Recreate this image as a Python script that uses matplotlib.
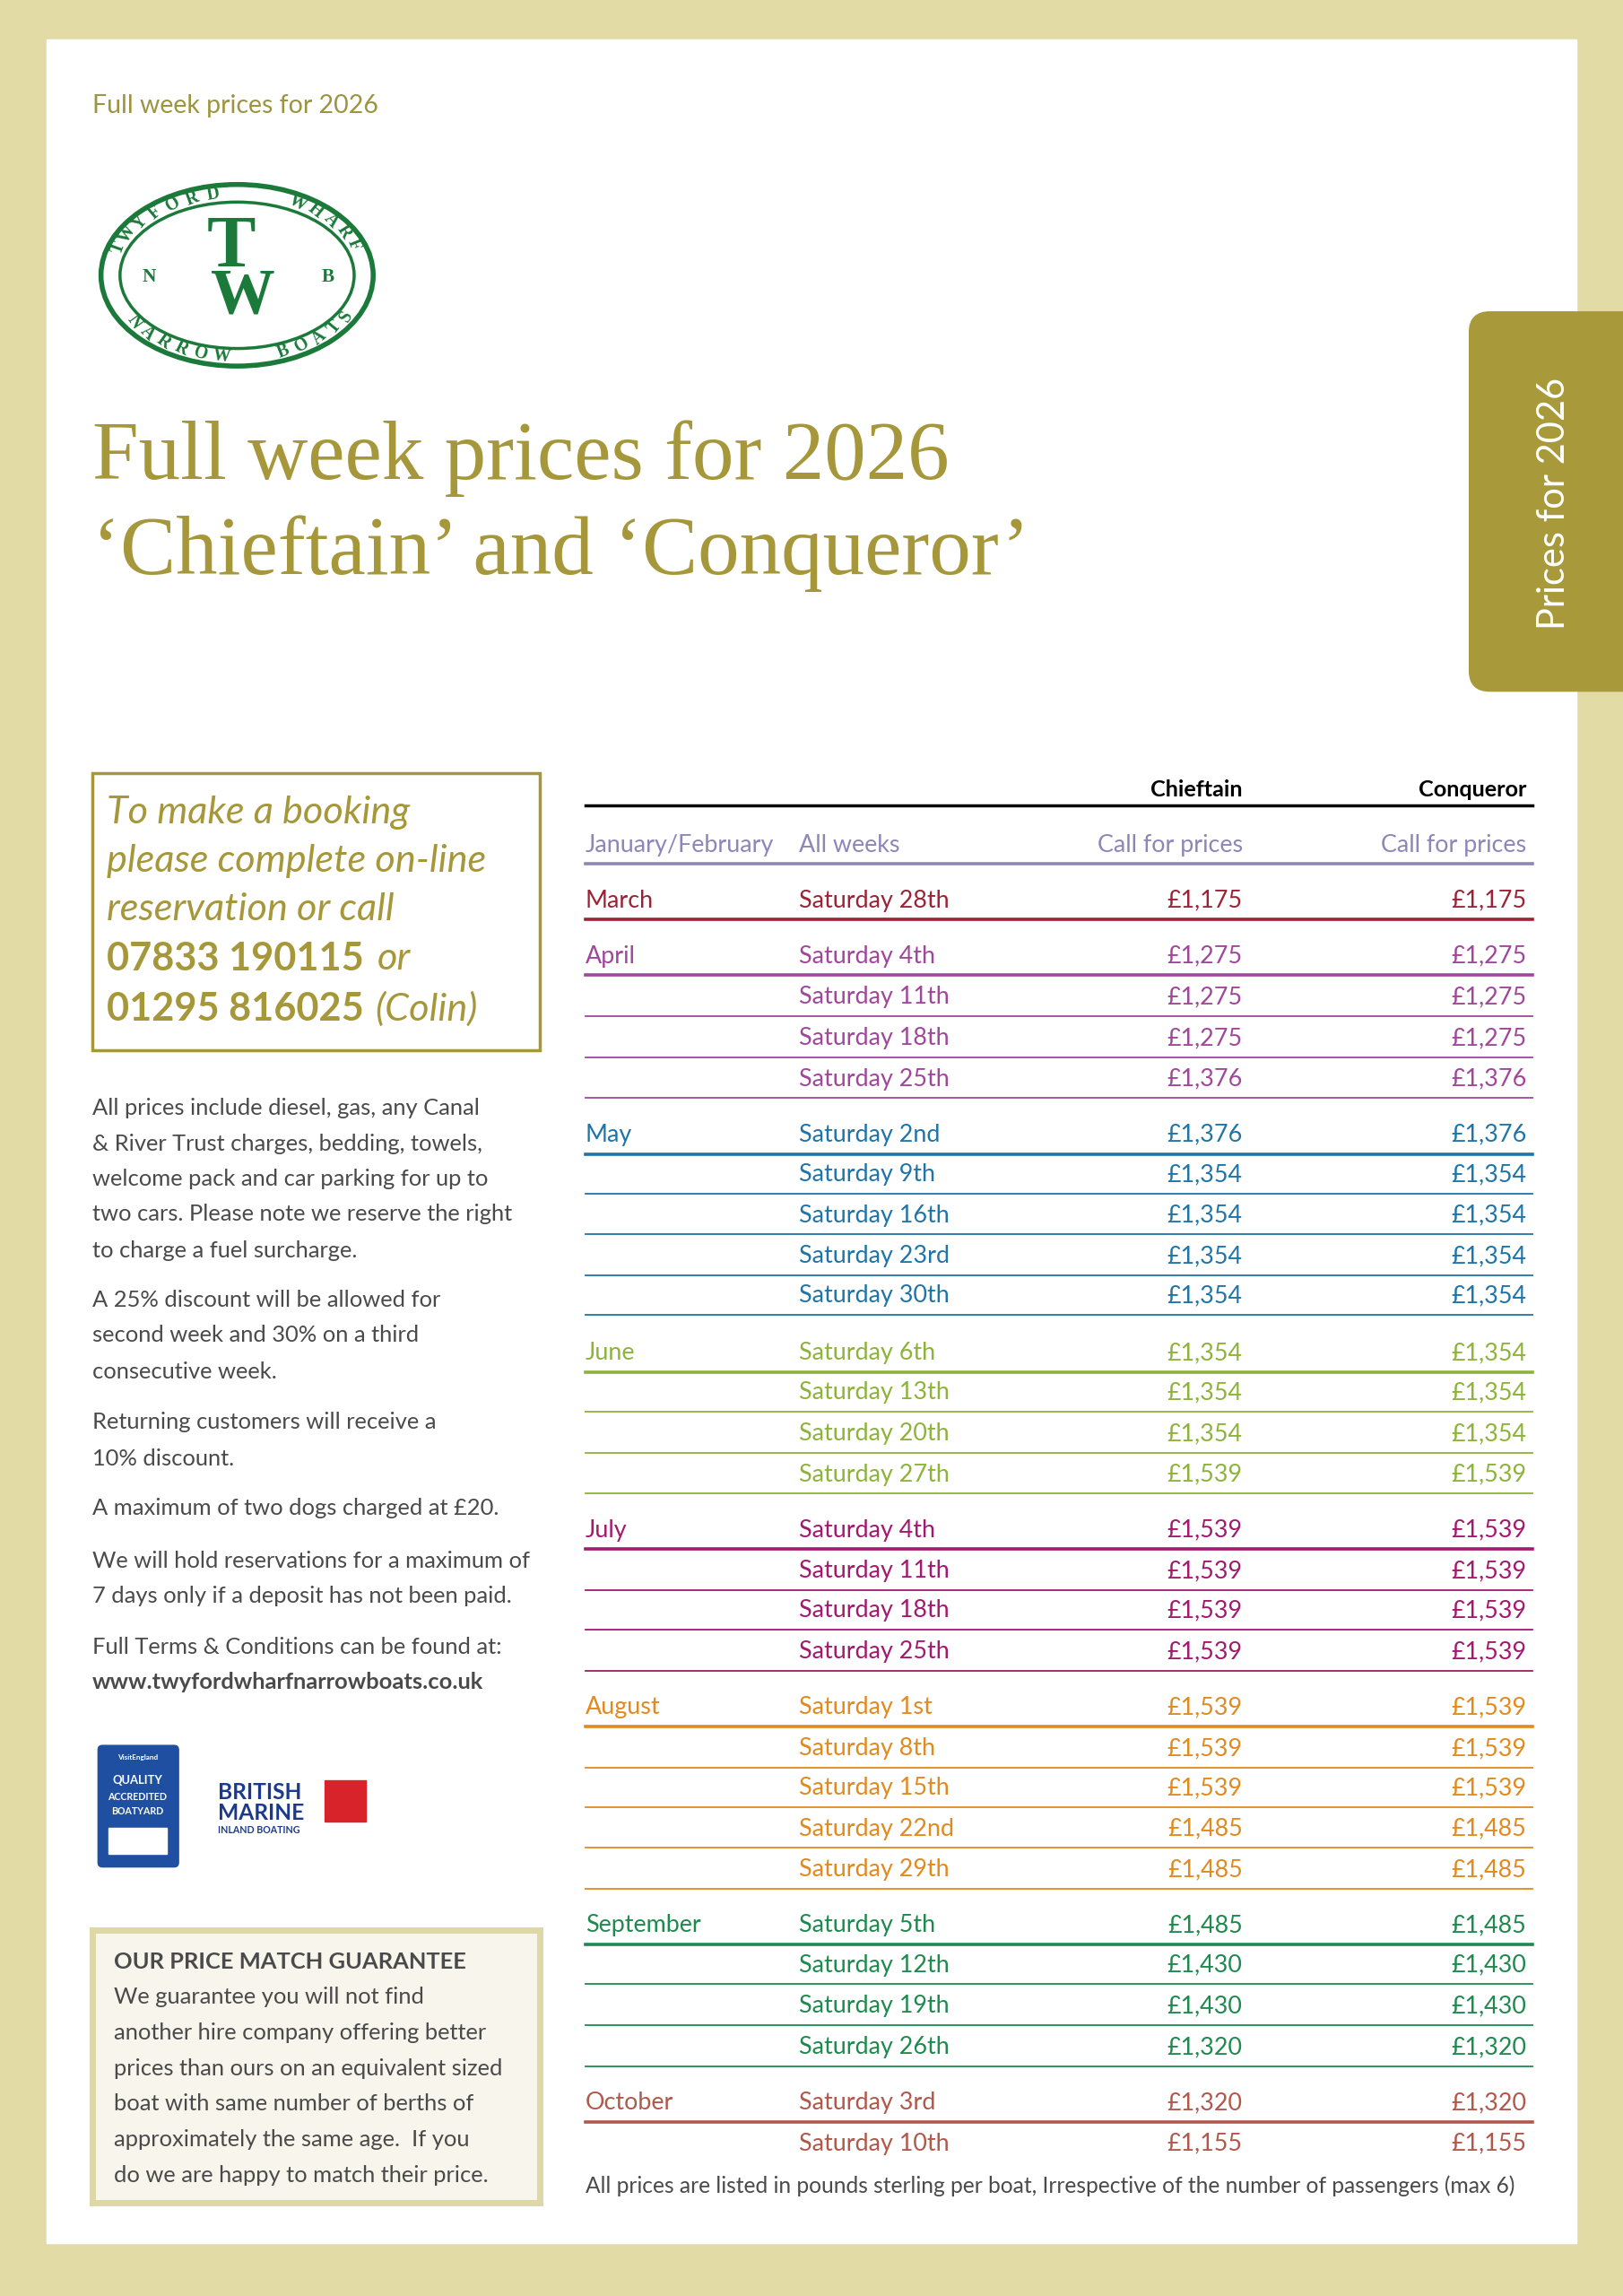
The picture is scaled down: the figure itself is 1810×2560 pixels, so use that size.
import matplotlib
matplotlib.use("Agg")
import matplotlib.pyplot as plt
from matplotlib.patches import Rectangle, FancyBboxPatch, Ellipse
import numpy as np

months = ["January/February", "March", "April", "", "", "", "May", "", "", "", "",
          "June", "", "", "", "July", "", "", "", "August", "", "", "", "",
          "September", "", "", "", "October", ""]
days = ["All weeks", "Saturday 28th", "Saturday 4th", "Saturday 11th", "Saturday 18th", "Saturday 25th",
        "Saturday 2nd", "Saturday 9th", "Saturday 16th", "Saturday 23rd", "Saturday 30th",
        "Saturday 6th", "Saturday 13th", "Saturday 20th", "Saturday 27th",
        "Saturday 4th", "Saturday 11th", "Saturday 18th", "Saturday 25th",
        "Saturday 1st", "Saturday 8th", "Saturday 15th", "Saturday 22nd", "Saturday 29th",
        "Saturday 5th", "Saturday 12th", "Saturday 19th", "Saturday 26th",
        "Saturday 3rd", "Saturday 10th"]
chieftain = ["Call for prices", "£1,175", "£1,275", "£1,275", "£1,275", "£1,376",
             "£1,376", "£1,354", "£1,354", "£1,354", "£1,354",
             "£1,354", "£1,354", "£1,354", "£1,539",
             "£1,539", "£1,539", "£1,539", "£1,539",
             "£1,539", "£1,539", "£1,539", "£1,485", "£1,485",
             "£1,485", "£1,430", "£1,430", "£1,320",
             "£1,320", "£1,155"]
conqueror = list(chieftain)
group_colors = {"January/February": "#8E86B8", "March": "#9B2335", "April": "#A0479A",
                "May": "#1F74A8", "June": "#8DB33A", "July": "#A3196E",
                "August": "#E08A20", "September": "#1E8A4E", "October": "#B0584A"}
row_y = [577, 615, 653, 681, 709, 737, 775, 802, 830, 858, 885, 924, 951, 979, 1007,
         1045, 1073, 1100, 1128, 1166, 1194, 1221, 1249, 1277, 1315, 1342, 1370, 1398, 1436, 1464]

K = 1.175
OLIVE = "#A5973A"
GRAY = "#4A4A4A"
SANS = ["Lato", "DejaVu Sans"]
SERIF = ["Liberation Serif", "DejaVu Serif"]

fig = plt.figure(figsize=(18.1, 25.6), dpi=100)
ax = fig.add_axes([0, 0, 1, 1])
ax.set_xlim(0, 1109); ax.set_ylim(1568, 0); ax.axis("off")
ax.add_patch(Rectangle((0, 0), 1109, 1568, color="#E2DBA6", zorder=0))
ax.add_patch(Rectangle((32, 27), 1045, 1505, color="white", zorder=1))
ax.add_patch(FancyBboxPatch((1004, 213), 140, 259, boxstyle="round,pad=0,rounding_size=14",
                            color="#A89A3A", zorder=2))
ax.text(1062, 344, "Prices for 2026", rotation=90, color="white", fontsize=25.5 * K,
        family=SANS, ha="center", va="center", zorder=3)

ax.text(63, 72, "Full week prices for 2026", color="#9C9440", fontsize=17.5 * K, family=SANS,
        va="center", zorder=3)

# logo
G = "#1B7A3A"
ax.add_patch(Ellipse((162, 188), 186, 124, fill=False, ec=G, lw=4, zorder=3))
ax.add_patch(Ellipse((162, 188), 160, 100, fill=False, ec=G, lw=2.5, zorder=3))
ax.text(158, 170, "T", color=G, fontsize=50 * K, family=SERIF, weight="bold",
        ha="center", va="center", zorder=4)
ax.text(166, 203, "W", color=G, fontsize=44 * K, family=SERIF, weight="bold",
        ha="center", va="center", zorder=4)
ax.text(102, 189, "N", color=G, fontsize=13 * K, family=SERIF, weight="bold", ha="center", va="center", zorder=4)
ax.text(224, 189, "B", color=G, fontsize=13 * K, family=SERIF, weight="bold", ha="center", va="center", zorder=4)
def arc_text(s, a0, a1, top=True):
    angs = np.linspace(a0, a1, len(s))
    for ch, a in zip(s, angs):
        r = np.radians(a)
        x = 162 + 86 * np.cos(r); y = 188 - 56 * np.sin(r)
        rot = a - 90 if top else a + 90
        ax.text(x, y, ch, color=G, fontsize=12 * K, family=SERIF, weight="bold",
                ha="center", va="center", rotation=rot, zorder=4)
arc_text("TWYFORD   WHARF", 160, 22, True)
arc_text("NARROW  BOATS", 215, 330, False)

ax.text(63, 313, "Full week prices for 2026", color=OLIVE, fontsize=57 * K, family=SERIF,
        va="center", zorder=3)
ax.text(63, 378, "‘Chieftain’ and ‘Conqueror’", color=OLIVE, fontsize=57 * K, family=SERIF,
        va="center", zorder=3)

# booking box
BF = 26.5 * K
ax.add_patch(Rectangle((63, 528), 306, 189, fill=False, ec=OLIVE, lw=2.5, zorder=3))
for y, s in [(555, "To make a booking"), (588, "please complete on-line"), (621, "reservation or call")]:
    ax.text(73, y, s, color=OLIVE, fontsize=BF, family=SANS, style="italic", va="center", zorder=3)
ax.text(73, 655, "07833 190115", color=OLIVE, fontsize=BF, family=SANS, weight="bold", va="center", zorder=3)
ax.text(258, 655, "or", color=OLIVE, fontsize=BF, family=SANS, style="italic", va="center", zorder=3)
ax.text(73, 689, "01295 816025", color=OLIVE, fontsize=BF, family=SANS, weight="bold", va="center", zorder=3)
ax.text(256, 689, "(Colin)", color=OLIVE, fontsize=BF, family=SANS, style="italic", va="center", zorder=3)

paras = [(757, "All prices include diesel, gas, any Canal"), (781, "& River Trust charges, bedding, towels,"),
         (805, "welcome pack and car parking for up to"), (829, "two cars. Please note we reserve the right"),
         (854, "to charge a fuel surcharge."), (888, "A 25% discount will be allowed for"),
         (912, "second week and 30% on a third"), (937, "consecutive week."),
         (971, "Returning customers will receive a"), (996, "10% discount."),
         (1030, "A maximum of two dogs charged at £20."),
         (1066, "We will hold reservations for a maximum of"), (1090, "7 days only if a deposit has not been paid."),
         (1125, "Full Terms & Conditions can be found at:")]
PF = 15.6 * K
for y, s in paras:
    ax.text(63, y, s, color=GRAY, fontsize=PF, family=SANS, va="center", zorder=3)
ax.text(63, 1149, "www.twyfordwharfnarrowboats.co.uk", color=GRAY, fontsize=PF, family=SANS,
        weight="bold", va="center", zorder=3)

# badges
ax.add_patch(FancyBboxPatch((67, 1192), 55, 83, boxstyle="round,pad=0,rounding_size=3",
                            color="#1F4FA0", zorder=3))
for y, s, fs in [(1200, "VisitEngland", 5), (1216, "QUALITY", 8), (1227, "ACCREDITED", 6.5),
                 (1237, "BOATYARD", 6.5)]:
    ax.text(94, y, s, color="white", fontsize=fs * K, family=SANS, weight="bold", ha="center", va="center", zorder=4)
ax.add_patch(Rectangle((74, 1248), 40, 18, color="white", zorder=4))
ax.text(149, 1224, "BRITISH", color="#1B3A8C", fontsize=15 * K, family=SANS, weight="bold", va="center", zorder=3)
ax.text(149, 1238, "MARINE", color="#1B3A8C", fontsize=15 * K, family=SANS, weight="bold", va="center", zorder=3)
ax.text(149, 1250, "INLAND BOATING", color="#1B3A8C", fontsize=6.5 * K, family=SANS, weight="bold", va="center", zorder=3)
ax.add_patch(Rectangle((222, 1216), 28, 28, color="#D8232A", zorder=3))

# price match box
ax.add_patch(Rectangle((63, 1318), 306, 186, fc="#F8F6EC", ec="#DED7A6", lw=5, zorder=3))
ax.text(78, 1340, "OUR PRICE MATCH GUARANTEE", color=GRAY, fontsize=PF, family=SANS,
        weight="bold", va="center", zorder=4)
for i, s in enumerate(["We guarantee you will not find", "another hire company offering better",
                       "prices than ours on an equivalent sized", "boat with same number of berths of",
                       "approximately the same age.  If you", "do we are happy to match their price."]):
    ax.text(78, 1364 + 24.3 * i, s, color=GRAY, fontsize=PF, family=SANS, va="center", zorder=4)

# table
TF = 16.5 * K
ax.text(849, 539, "Chieftain", color="black", fontsize=15.5 * K, family=SANS, weight="bold", ha="right", va="center", zorder=3)
ax.text(1043, 539, "Conqueror", color="black", fontsize=15.5 * K, family=SANS, weight="bold", ha="right", va="center", zorder=3)
ax.plot([400, 1047], [550, 550], color="black", lw=2.5, zorder=3)
cur = None
for i, (m, d, c1, c2, y) in enumerate(zip(months, days, chieftain, conqueror, row_y)):
    first = m != ""
    if first:
        cur = m
    col = group_colors[cur]
    ax.text(400, y, m, color=col, fontsize=TF, family=SANS, va="center", zorder=3)
    ax.text(546, y, d, color=col, fontsize=TF, family=SANS, va="center", zorder=3)
    ax.text(849, y, c1, color=col, fontsize=TF, family=SANS, ha="right", va="center", zorder=3)
    ax.text(1043, y, c2, color=col, fontsize=TF, family=SANS, ha="right", va="center", zorder=3)
    if i < len(row_y) - 1:
        ax.plot([400, 1047], [y + 13, y + 13], color=col, lw=2.6 if first else 1.3, zorder=3)
ax.text(400, 1493, "All prices are listed in pounds sterling per boat, Irrespective of the number of passengers (max 6)",
        color=GRAY, fontsize=15.1 * K, family=SANS, va="center", zorder=3)

fig.savefig("out.png", dpi=100)
